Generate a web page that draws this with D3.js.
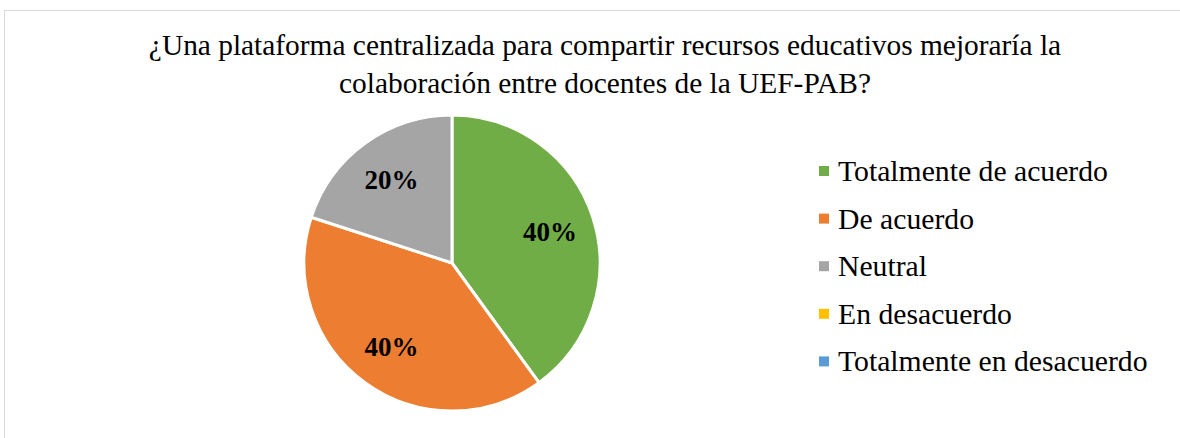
<!DOCTYPE html>
<html>
<head>
<meta charset="utf-8">
<script src="https://cdn.jsdelivr.net/npm/d3@7"></script>
<style>
  body { margin: 0; background: #fff; }
  svg { display: block; font-family: "Liberation Serif", "Times New Roman", serif; }
</style>
</head>
<body>
<svg id="chart" width="1180" height="438"></svg>
<script>
const titleLines = [
  "¿Una plataforma centralizada para compartir recursos educativos mejoraría la",
  "colaboración entre docentes de la UEF-PAB?"
];
const categories = ["Totalmente de acuerdo", "De acuerdo", "Neutral", "En desacuerdo", "Totalmente en desacuerdo"];
const values = [40, 40, 20, 0, 0];
const colors = ["#70ad47", "#ed7d31", "#a5a5a5", "#ffc000", "#5b9bd5"];

const svg = d3.select("#chart");

// chart frame (cut off at right/bottom like the source)
svg.append("rect")
  .attr("x", 4.5).attr("y", 10.5)
  .attr("width", 1200).attr("height", 500)
  .attr("fill", "none")
  .attr("stroke", "#d9d9d9")
  .attr("stroke-width", 1);

/* title */
svg.append("g").selectAll("text")
  .data(titleLines)
  .enter()
  .append("text")
  .attr("x", 605)
  .attr("y", (d, i) => 55 + i * 38)
  .attr("text-anchor", "middle")
  .attr("font-size", "29.4px")
  .attr("fill", "#000")
  .text(d => d);

/* pie */
const cx = 452, cy = 263, radius = 148;
const color = d3.scaleOrdinal().domain(categories).range(colors);

const pie = d3.pie().sort(null).value(d => d.value);
const slices = pie(categories.map((c, i) => ({ name: c, value: values[i] })));

const arc = d3.arc().innerRadius(0).outerRadius(radius);
const labelArc = d3.arc().innerRadius(103).outerRadius(103);

const pieG = svg.append("g").attr("transform", `translate(${cx}, ${cy})`);

pieG.selectAll("path")
  .data(slices.filter(d => d.value > 0))
  .enter()
  .append("path")
  .attr("d", arc)
  .attr("fill", d => color(d.data.name))
  .attr("stroke", "#fff")
  .attr("stroke-width", 3);

pieG.selectAll("text")
  .data(slices.filter(d => d.value > 0))
  .enter()
  .append("text")
  .attr("transform", d => `translate(${labelArc.centroid(d)})`)
  .attr("text-anchor", "middle")
  .attr("dy", "0.35em")
  .attr("font-size", "27px")
  .attr("font-weight", "bold")
  .attr("fill", "#000")
  .text(d => d.value + "%");

/* legend */
const legend = svg.append("g").attr("transform", "translate(819, 171)");
const rows = legend.selectAll("g")
  .data(categories)
  .enter()
  .append("g")
  .attr("transform", (d, i) => `translate(0, ${i * 47.6})`);

rows.append("rect")
  .attr("x", 0).attr("y", -5)
  .attr("width", 10).attr("height", 10)
  .attr("fill", d => color(d));

rows.append("text")
  .attr("x", 19)
  .attr("y", 10)
  .attr("font-size", "29.7px")
  .attr("fill", "#000")
  .text(d => d);
</script>
</body>
</html>
